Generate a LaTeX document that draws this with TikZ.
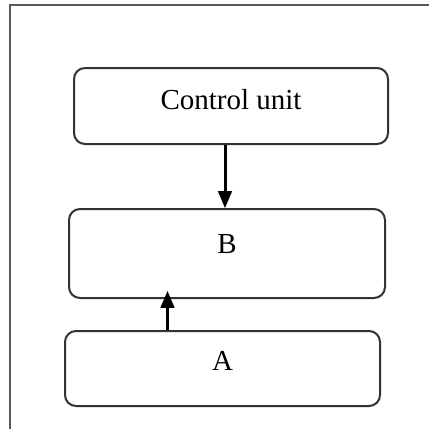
\documentclass[tikz,border=0pt]{standalone}
\usepackage{fontspec}
\setmainfont{Liberation Serif}
\usetikzlibrary{positioning,arrows}

\begin{document}
\begin{tikzpicture}
            [x=1pt, y=-1pt,
            font=\fontsize{29}{34}\selectfont,
            unit/.style={rectangle, rounded corners=11pt, draw=black!80,
            line width=2pt, inner sep=0pt, align=center},
            link/.style={draw=black, line width=3pt, -triangle 45}]
            \useasboundingbox (0,0) rectangle (429,429);
            \clip (0,0) rectangle (429,429);
            \draw[black!65, line width=2pt] (10,5) rectangle (440,440);
            \node[unit, minimum width=314pt, minimum height=76pt, text depth=14pt] (cu) at (231,106) {Control unit};
            \node[unit, minimum width=316pt, minimum height=89pt, text depth=19pt] (b) at (227,253.5) {B};
            \node[unit, minimum width=315pt, minimum height=75pt, text depth=15pt] (a) at (222.5,368.5) {A};
            \coordinate (bin) at ([xshift=-59.5pt, yshift=8pt]b.south);
            \draw[link] ([xshift=-6pt]cu.south) -- ([xshift=-6pt]cu.south |- b.north);
            \draw[link] (a.north -| bin) -- (bin);
\end{tikzpicture}
\end{document}
